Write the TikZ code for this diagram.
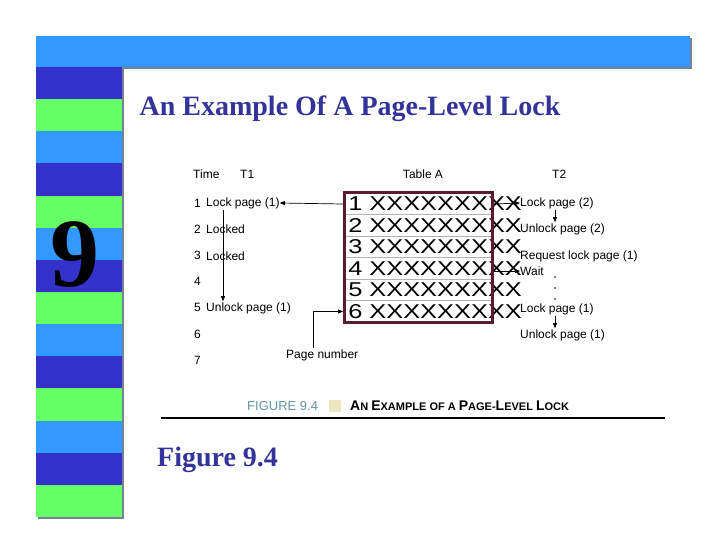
\documentclass[tikz,border=0pt]{standalone}
\usepackage{fontspec}
\setmainfont{Liberation Serif}
\newfontfamily\figfont{Liberation Sans}
\usetikzlibrary{arrows.meta}
\definecolor{stripedark}{RGB}{51,51,204}
\definecolor{stripegreen}{RGB}{102,255,102}
\definecolor{stripelight}{RGB}{51,153,255}
\definecolor{titleblue}{RGB}{51,51,153}
\definecolor{tablered}{RGB}{92,26,48}
\definecolor{shadowgray}{RGB}{120,128,150}
\definecolor{captionteal}{RGB}{100,150,165}
\definecolor{captionbox}{RGB}{238,230,190}
\newcommand\capbig[1]{{\fontsize{14}{14}\selectfont #1}}
\tikzset{
  lbl/.style={font=\figfont\fontsize{12}{12}\selectfont, inner sep=0pt, anchor=west},
  rowtext/.style={font=\figfont\fontsize{20}{20}\selectfont, inner sep=0pt, anchor=west, xscale=1.27},
  tip/.style={line width=0.7pt, -{Triangle[length=5pt,width=4pt]}},
}
\begin{document}
\begin{tikzpicture}[x=1pt,y=-1pt]
\useasboundingbox[fill=white] (0,0) rectangle (720,540);
% slide frame
\fill[shadowgray] (38,38) rectangle (692,69);
\fill[shadowgray] (38,69) rectangle (124,519);
\fill[stripelight] (36,36) rectangle (690,67);
\foreach \c [count=\i from 0] in {stripedark,stripegreen,stripelight,stripedark,stripegreen,stripelight,stripedark,stripegreen,stripelight,stripedark,stripegreen,stripelight,stripedark,stripegreen}
  \fill[\c] (36,67+32.14*\i) rectangle (122,99.14+32.14*\i);
\node[font=\bfseries\fontsize{98}{98}\selectfont, anchor=base] (chap) at (75,286) {9};
\node[font=\bfseries\fontsize{28}{28}\selectfont, text=titleblue, anchor=base] (title) at (350,116) {An Example Of A Page-Level Lock};
\node[font=\bfseries\fontsize{28}{28}\selectfont, text=titleblue, anchor=base west, inner sep=0pt] (figref) at (157,466) {Figure 9.4};

% headings
\node[lbl] (time) at (193,174) {Time};
\node[lbl] (hone) at (240,174) {T1};
\node[lbl, anchor=center] (htable) at (423,174) {Table A};
\node[lbl] (htwo) at (552,174) {T2};
\foreach \i in {1,...,7}
  \node[lbl] (t\i) at (194,203+26.2*\i-26.2) {\i};

% table A
\foreach \i in {1,...,5}
  \draw[gray!60] (344.5,193+21.5*\i) -- (492.5,193+21.5*\i);
\foreach \i in {1,...,6}
  \node[rowtext] (r\i) at (348,204+21.5*\i-21.5) {\i\ XXXXXXXXX};
\node[draw=tablered, line width=3pt, minimum width=148pt, minimum height=130pt, inner sep=0pt] (tbl) at (418.5,257.5) {};

% T1
\node[lbl] (a1) at (206,203) {Lock page (1)};
\node[lbl] (a2) at (206,229) {Locked};
\node[lbl] (a3) at (206,256) {Locked};
\node[lbl] (a5) at (206,308) {Unlock page (1)};
\draw[tip] ([xshift=17pt,yshift=-1pt]a1.south west) -- ([xshift=17pt,yshift=1pt]a5.north west);
\draw[tip] (tbl.west |- r1) -- (a1.east);
\node[lbl] (pgnum) at (286,355) {Page number};
\draw[tip] ([xshift=27pt,yshift=1pt]pgnum.north west) |- (tbl.west |- r6);

% T2
\node[lbl] (b1) at (520,203) {Lock page (2)};
\node[lbl] (b2) at (520,229) {Unlock page (2)};
\node[lbl] (b3) at (520,256) {Request lock page (1)};
\node[lbl] (b4) at (520,271) {Wait};
\node[lbl] (b6) at (520,309) {Lock page (1)};
\node[lbl] (b7) at (520,335) {Unlock page (1)};
\foreach \y in {277,288,299}
  \fill (555,\y) circle (0.9pt);
\draw[tip] ([xshift=35pt,yshift=-1pt]b1.south west) -- ([xshift=35pt,yshift=1pt]b2.north west);
\draw[tip] ([xshift=35pt,yshift=-1pt]b6.south west) -- ([xshift=35pt,yshift=1pt]b7.north west);
\draw[tip] (tbl.east |- r1) -- (b1.west);
\draw[tip] (tbl.east |- b4) -- (b4.west);

% caption
\node[font=\figfont\fontsize{13}{13}\selectfont, text=captionteal, anchor=west, inner sep=0pt] (figno) at (247,406) {FIGURE 9.4};
\node[fill=captionbox, minimum size=12pt, inner sep=0pt] (capsq) at (335,406) {};
\node[font=\figfont\bfseries\fontsize{11}{11}\selectfont, anchor=west, inner sep=0pt] (captext) at (350,406) {\capbig{A}N \capbig{E}XAMPLE OF A \capbig{P}AGE-\capbig{L}EVEL \capbig{L}OCK};
\draw[line width=2pt] (161,418) -- (665,418);
\end{tikzpicture}
\end{document}
